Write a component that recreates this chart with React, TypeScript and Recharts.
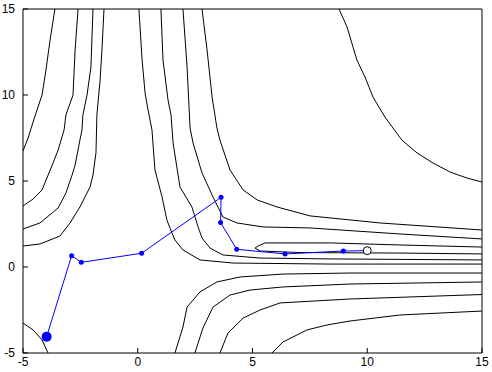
import React from 'react'
import { ScatterChart, Scatter, XAxis, YAxis } from 'recharts'

// axis ticks
const ticks = [-5, 0, 5, 10, 15]

// contour lines, [x, y]
const contourL1 = [[-3.61, 15], [-3.82, 13.2], [-4.0, 11.45], [-4.17, 10.0], [-4.39, 9.13], [-4.56, 8.43], [-4.78, 7.5], [-5, 6.74]]
const contourL2 = [[-2.6, 15], [-2.73, 12.62], [-2.82, 10], [-3.13, 8.84], [-3.21, 7.97], [-3.3, 7.56], [-3.47, 6.8], [-3.69, 6.05], [-4.17, 4.48], [-4.56, 3.95], [-5, 3.55]]
const contourL3 = [[-1.95, 15], [-2.04, 11.63], [-2.21, 10], [-2.39, 8.84], [-2.43, 7.97], [-2.52, 7.38], [-2.73, 5.93], [-2.86, 5.35], [-3.13, 4.3], [-3.47, 3.43], [-4.26, 2.56], [-5, 2.21]]
const contourL4 = [[-1.47, 15], [-1.56, 12.62], [-1.64, 10.87], [-1.78, 8.84], [-1.82, 6.63], [-1.95, 5.35], [-2.08, 4.65], [-2.52, 3.49], [-2.95, 2.56], [-3.39, 1.8], [-4.26, 1.34], [-5, 1.22]]
const contourC1 = [[0.05, 15], [0.19, 12.03], [0.32, 10.1], [0.45, 9.13], [0.62, 7.97], [0.75, 5.64], [1.06, 4.07], [1.27, 2.73], [1.49, 1.98], [1.62, 1.57], [1.97, 0.99], [2.71, 0.41], [4.15, 0.23], [8.38, 0.17], [15, 0.17]]
const contourC2 = [[1.01, 15], [1.1, 12.03], [1.32, 9.71], [1.45, 8.84], [1.54, 7.21], [1.84, 4.65], [2.36, 3.49], [2.63, 2.33], [2.8, 1.69], [3.15, 1.1], [3.71, 0.7], [5.33, 0.52], [8.38, 0.47], [15, 0.41]]
const contourC3 = [[1.97, 15], [2.15, 11.63], [2.28, 8.08], [2.41, 7.21], [2.8, 5.47], [3.28, 4.07], [3.71, 2.91], [4.32, 2.56], [5.46, 2.33], [7.51, 2.27], [11.43, 1.92], [15, 1.63]]
const contourC4 = [[2.8, 15], [3.02, 12.62], [3.24, 9.88], [3.45, 8.08], [3.58, 7.38], [4.02, 5.64], [4.59, 4.48], [5.2, 3.9], [6.07, 3.49], [7.51, 2.97], [10.56, 2.56], [15, 2.15]]
const contourV0 = [[15, 1.16], [11.43, 1.28], [8.38, 1.4], [5.55, 1.4], [5.24, 1.22], [5.11, 1.1], [5.33, 0.93], [7.07, 0.84], [11.43, 0.81], [15, 0.76]]
const contourB1 = [[1.62, -5], [1.97, -3.49], [2.15, -2.33], [2.71, -1.45], [3.45, -0.87], [4.46, -0.58], [6.33, -0.41], [9.25, -0.35], [15, -0.35]]
const contourB2 = [[2.49, -5], [2.84, -3.55], [3.28, -2.33], [4.02, -1.63], [4.89, -1.34], [6.33, -1.16], [9.25, -0.99], [15, -0.87]]
const contourB3 = [[3.58, -5], [3.93, -3.84], [4.59, -2.97], [5.33, -2.5], [6.2, -2.09], [9.25, -1.86], [15, -1.6]]
const contourB4 = [[5.85, -5], [6.33, -4.36], [7.37, -3.66], [8.25, -3.37], [9.25, -3.14], [11.43, -2.79], [15, -2.56]]
const contourUR = [[8.77, 15], [9.12, 13.95], [9.55, 12.03], [9.9, 11.05], [10.25, 9.88], [10.77, 8.72], [11.12, 8.08], [11.51, 7.38], [12.17, 6.63], [12.86, 6.05], [13.61, 5.52], [14.35, 5.17], [15, 4.94]]
const contourLL = [[-5, -3.26], [-4.56, -3.66], [-4.17, -4.24], [-3.91, -5]]

// optimizer iterates
const pathX = [-3.97, -2.88, -2.46, 0.17, 3.63, 3.61, 4.31, 6.42, 8.96, 10.0]
const pathY = [-4.05, 0.66, 0.27, 0.8, 4.05, 2.58, 1.03, 0.76, 0.93, 0.95]

const contours = [
  contourL1, contourL2, contourL3, contourL4,
  contourC1, contourC2, contourC3, contourC4, contourV0,
  contourB1, contourB2, contourB3, contourB4,
  contourUR, contourLL,
]

const toPts = (arr: number[][]) => arr.map(([x, y]) => ({ x, y }))
const path = pathX.map((x, i) => ({ x, y: pathY[i] }))

const font = { fontFamily: '"Liberation Sans", Arial, sans-serif', fontSize: 12, fill: '#000' }
const axisLine = { stroke: '#000', strokeWidth: 1 }

export default function App() {
  return (
    <div style={{ position: 'absolute', left: 0, top: 0, background: '#fff' }}>
      <ScatterChart width={492} height={372} margin={{ top: 0, right: 0, bottom: 0, left: 0 }}>
        <XAxis
          xAxisId={0}
          type="number"
          dataKey="x"
          domain={[-5, 15]}
          ticks={ticks}
          interval={0}
          height={19}
          tickSize={-5}
          tickMargin={9}
          axisLine={axisLine}
          tickLine={axisLine}
          tick={font}
        />
        <XAxis
          xAxisId="top"
          orientation="top"
          type="number"
          dataKey="x"
          domain={[-5, 15]}
          ticks={ticks}
          interval={0}
          height={9}
          tickSize={-5}
          axisLine={axisLine}
          tickLine={axisLine}
          tick={false}
        />
        <YAxis
          yAxisId={0}
          type="number"
          dataKey="y"
          domain={[-5, 15]}
          ticks={ticks}
          interval={0}
          width={23}
          tickSize={-5}
          tickMargin={13}
          axisLine={axisLine}
          tickLine={axisLine}
          tick={font}
        />
        <YAxis
          yAxisId="right"
          orientation="right"
          type="number"
          dataKey="y"
          domain={[-5, 15]}
          ticks={ticks}
          interval={0}
          width={10}
          tickSize={-5}
          axisLine={axisLine}
          tickLine={axisLine}
          tick={false}
        />
        {contours.map((c, i) => (
          <Scatter
            key={i}
            data={toPts(c)}
            line={{ stroke: '#000', strokeWidth: 1 }}
            lineType="joint"
            stroke="#000"
            fill="none"
            shape={() => <g />}
            isAnimationActive={false}
          />
        ))}
        <Scatter
          data={path}
          line={{ stroke: '#0000ff', strokeWidth: 1 }}
          lineType="joint"
          fill="#0000ff"
          shape={(p: any) => <circle cx={p.cx} cy={p.cy} r={2.5} fill="#0000ff" />}
          isAnimationActive={false}
        />
        <Scatter
          data={path.slice(0, 1)}
          fill="#0000ff"
          shape={(p: any) => <circle cx={p.cx} cy={p.cy} r={5} fill="#0000ff" />}
          isAnimationActive={false}
        />
        <Scatter
          data={path.slice(-1)}
          fill="#fff"
          shape={(p: any) => <circle cx={p.cx} cy={p.cy} r={4} fill="#fff" stroke="#000" strokeWidth={1} />}
          isAnimationActive={false}
        />
      </ScatterChart>
    </div>
  )
}
